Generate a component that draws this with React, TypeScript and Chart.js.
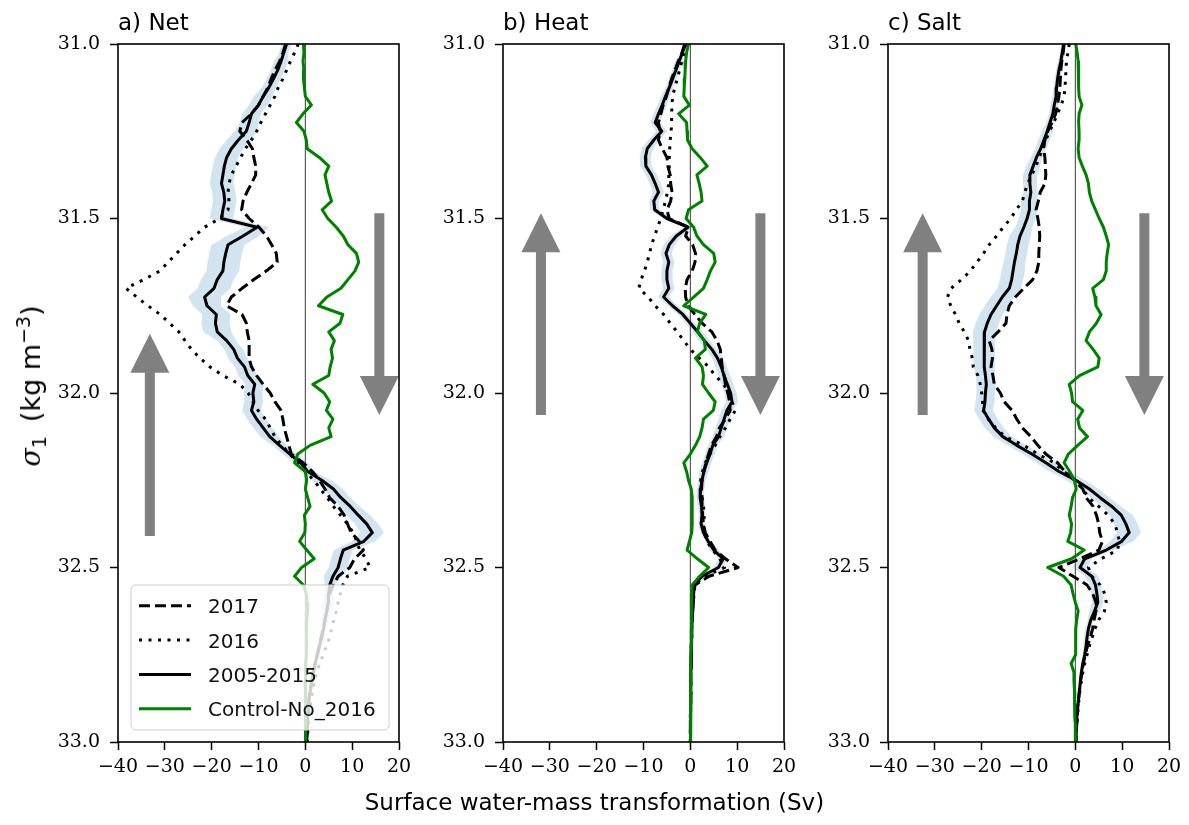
import React, { useEffect, useRef } from "react";
import { Chart, registerables } from "chart.js";

Chart.register(...registerables);

// density levels (sigma_1, kg m^-3)
const sigma = [
  31.0, 31.025, 31.05, 31.075, 31.1, 31.125, 31.15, 31.175, 31.2, 31.225,
  31.25, 31.275, 31.3, 31.325, 31.35, 31.375, 31.4, 31.425, 31.45, 31.475,
  31.5, 31.525, 31.55, 31.575, 31.6, 31.625, 31.65, 31.675, 31.7, 31.725,
  31.75, 31.775, 31.8, 31.825, 31.85, 31.875, 31.9, 31.925, 31.95, 31.975,
  32.0, 32.025, 32.05, 32.075, 32.1, 32.125, 32.15, 32.175, 32.2, 32.225,
  32.25, 32.275, 32.3, 32.325, 32.35, 32.375, 32.4, 32.425, 32.45, 32.475,
  32.5, 32.525, 32.55, 32.575, 32.6, 32.625, 32.65, 32.675, 32.7, 32.725,
  32.75, 32.775, 32.8, 32.825, 32.85, 32.875, 32.9, 32.925, 32.95, 32.975,
  33.0,
];

// ---- a) Net ----
const netMean = [
  -4.0, -4.6, -5.2, -5.9, -6.8, -7.8, -9.0, -10.0, -11.5, -12.0,
  -12.6, -14.3, -15.8, -16.8, -17.3, -17.6, -17.9, -17.4, -17.2, -17.6,
  -17.9, -10.3, -13.3, -16.5, -17.0, -17.4, -17.6, -18.8, -19.5, -21.5,
  -21.0, -19.0, -19.2, -18.8, -16.8, -15.3, -14.5, -13.0, -12.3, -10.8,
  -11.2, -11.0, -11.5, -10.4, -9.0, -7.6, -5.5, -3.3, -1.0, 0.5,
  3.5, 6.0, 7.6, 9.6, 11.3, 13.1, 14.3, 12.5, 8.1, 7.5,
  7.0, 5.9, 5.2, 5.0, 4.9, 4.6, 4.2, 3.9, 3.5, 3.0,
  2.6, 2.1, 1.7, 1.4, 1.1, 0.8, 0.6, 0.5, 0.4, 0.4, 0.3,
];
const net2017 = [
  -4.2, -4.8, -5.5, -6.5, -7.3, -8.0, -9.0, -10.0, -11.5, -13.5,
  -14.0, -12.5, -11.3, -11.0, -10.6, -10.6, -11.5, -12.5, -13.3, -13.6,
  -12.0, -9.9, -8.3, -7.2, -6.2, -6.0, -8.3, -11.0, -13.5, -15.8,
  -16.8, -13.5, -12.6, -12.4, -12.0, -12.0, -12.0, -11.5, -10.4, -9.0,
  -7.5, -6.5, -5.2, -4.8, -4.5, -4.0, -3.5, -3.0, -0.5, 1.5,
  3.0, 4.2, 5.2, 7.0, 8.3, 9.0, 9.8, 11.5, 12.4, 10.5,
  9.5, 7.0, 6.0, 5.2, 4.9, 4.6, 4.2, 3.8, 3.4, 3.0,
  2.5, 2.1, 1.7, 1.4, 1.1, 0.8, 0.6, 0.5, 0.4, 0.3, 0.3,
];
const net2016 = [
  -1.5, -2.3, -3.2, -4.0, -4.8, -5.8, -6.5, -7.5, -8.5, -9.5,
  -10.4, -11.5, -12.8, -13.8, -14.8, -15.8, -16.3, -16.5, -16.3, -16.5,
  -18.3, -21.5, -23.6, -25.7, -27.5, -29.3, -31.0, -34.5, -38.3, -36.0,
  -33.6, -31.0, -29.0, -27.0, -25.7, -24.3, -22.5, -20.4, -17.6, -14.0,
  -12.2, -11.2, -10.1, -8.5, -7.5, -6.5, -5.0, -3.3, -1.5, 0.0,
  1.8, 3.2, 4.7, 6.0, 7.5, 9.0, 10.2, 11.0, 11.6, 13.0,
  13.8, 9.0, 8.0, 7.5, 7.0, 6.6, 6.1, 5.6, 5.2, 4.5,
  3.8, 3.1, 2.4, 2.0, 1.6, 1.3, 1.0, 0.8, 0.6, 0.5, 0.4,
];
const netControl = [
  -0.4, -0.3, -0.5, -0.3, -0.4, -0.2, 0.0, 1.3, -0.5, -1.9,
  -0.3, 0.2, 0.4, 3.0, 5.0, 4.2, 4.6, 5.0, 5.6, 3.6,
  4.8, 6.6, 8.1, 9.1, 10.9, 11.4, 10.6, 9.1, 7.6, 4.6,
  2.8, 8.0, 7.4, 5.0, 6.2, 5.5, 5.8, 5.3, 5.0, 1.6,
  4.0, 5.2, 4.5, 5.9, 5.0, 5.5, 1.0, -1.6, -2.3, 0.0,
  0.3, 0.0, 0.5, 1.0, -0.2, 0.0, -0.1, -1.2, 0.3, 1.9,
  -0.8, -2.3, -0.4, 0.2, 0.4, 0.5, 0.3, 0.2, 0.3, 0.2,
  0.2, 0.1, 0.1, 0.1, 0.1, 0.0, 0.0, 0.0, 0.0, 0.0, 0.0,
];
// half-width of the 2005-2015 spread, every 0.1 kg m^-3
const netSpread = [1.0, 1.5, 2.0, 2.5, 2.5, 2.5, 3.5, 3.5, 3.0, 2.0, 2.0, 2.0, 1.5, 2.0, 2.5, 2.0, 1.0, 0.7, 0.5, 0.3, 0.2];

// ---- b) Heat ----
const heatMean = [
  -1.0, -1.7, -2.4, -3.1, -3.8, -4.5, -5.3, -6.0, -6.8, -7.5,
  -6.1, -7.8, -9.2, -9.6, -9.5, -8.3, -7.5, -6.8, -7.8, -7.6,
  -5.0, -0.5, -3.0, -4.5, -5.2, -4.6, -5.0, -5.0, -4.6, -5.7,
  -3.8, -1.6, 0.0, 1.6, 3.0, 4.6, 5.8, 6.6, 7.2, 7.9,
  8.6, 8.9, 7.8, 7.2, 6.6, 6.0, 4.8, 4.2, 3.5, 2.9,
  2.5, 2.2, 2.1, 2.4, 2.5, 2.3, 2.8, 3.8, 5.0, 7.0,
  6.0, 2.5, 0.8, 0.7, 0.6, 0.5, 0.4, 0.3, 0.3, 0.2,
  0.2, 0.2, 0.1, 0.1, 0.1, 0.1, 0.1, 0.0, 0.0, 0.0, 0.0,
];
const heat2017 = [
  -1.2, -1.8, -2.6, -3.3, -4.0, -4.6, -5.1, -5.8, -6.3, -6.8,
  -6.5, -6.8, -6.0, -5.0, -4.8, -4.3, -4.2, -3.9, -4.2, -5.0,
  -4.5, -0.4, -1.0, 0.5, 1.1, 1.0, 0.4, -0.7, -1.1, -1.0,
  -0.5, 1.0, 2.5, 4.6, 5.7, 6.4, 6.6, 6.8, 7.2, 7.5,
  8.0, 8.4, 8.5, 7.5, 6.2, 5.6, 4.5, 3.9, 3.3, 2.9,
  2.5, 2.4, 2.5, 2.5, 2.6, 2.8, 3.2, 4.2, 5.3, 7.5,
  10.2, 4.0, 1.0, 0.8, 0.6, 0.5, 0.4, 0.3, 0.3, 0.2,
  0.2, 0.2, 0.1, 0.1, 0.1, 0.1, 0.1, 0.0, 0.0, 0.0, 0.0,
];
const heat2016 = [
  -0.7, -1.2, -1.8, -2.3, -2.8, -3.3, -3.8, -3.9, -4.0, -4.0,
  -4.1, -4.3, -4.4, -4.5, -4.5, -4.6, -4.6, -4.9, -5.3, -5.8,
  -6.3, -7.0, -7.6, -8.3, -8.7, -9.2, -9.8, -10.5, -11.0, -9.0,
  -7.5, -5.7, -4.3, -2.8, -1.4, 0.0, 1.9, 3.9, 5.3, 7.1,
  8.2, 8.9, 9.6, 8.5, 7.5, 6.3, 5.3, 4.2, 3.2, 2.6,
  2.2, 2.3, 2.5, 2.8, 3.0, 2.8, 3.0, 3.5, 4.8, 6.3,
  7.3, 3.0, 0.9, 0.8, 0.6, 0.5, 0.4, 0.3, 0.3, 0.2,
  0.2, 0.2, 0.1, 0.1, 0.1, 0.1, 0.1, 0.0, 0.0, 0.0, 0.0,
];
const heatControl = [
  -0.4, -0.8, -1.0, -1.1, -1.2, -1.3, -1.4, -0.2, -2.5, -0.8,
  -0.7, -0.6, 0.4, 2.1, 3.6, 1.4, 1.9, 2.3, 2.5, -0.4,
  -0.9, 0.7, 1.4, 2.8, 5.0, 5.3, 4.3, 3.6, 2.8, 0.7,
  -1.4, 3.3, 2.0, 1.5, 3.0, 3.2, 1.1, 2.5, 2.8, 2.6,
  3.9, 5.3, 4.9, 2.8, 2.5, 2.0, 1.1, 0.0, -1.4, -0.8,
  -0.4, 0.2, 0.4, 0.4, 0.4, 0.4, 0.3, -0.2, -0.7, 1.5,
  3.9, 2.0, 0.4, 0.3, 0.3, 0.3, 0.2, 0.2, 0.2, 0.2,
  0.1, 0.1, 0.1, 0.1, 0.1, 0.1, 0.0, 0.0, 0.0, 0.0, 0.0,
];
const heatSpread = [0.4, 0.8, 1.0, 1.2, 1.2, 1.0, 1.2, 1.2, 1.0, 1.2, 1.3, 1.2, 1.0, 0.8, 0.6, 1.0, 0.3, 0.2, 0.1, 0.1, 0.1];

// ---- c) Salt ----
const saltMean = [
  -2.5, -2.8, -3.1, -3.5, -3.8, -4.0, -4.1, -4.5, -4.8, -5.4,
  -6.0, -6.7, -7.4, -8.3, -9.0, -9.7, -9.7, -9.5, -9.8, -9.8,
  -10.3, -11.0, -11.8, -12.3, -12.6, -13.0, -13.3, -13.6, -14.1, -15.6,
  -16.8, -18.0, -18.8, -19.4, -19.5, -19.4, -19.4, -19.5, -19.2, -19.0,
  -19.2, -19.3, -19.6, -18.5, -17.3, -15.5, -12.5, -9.3, -6.3, -3.5,
  0.1, 3.0, 5.3, 7.8, 9.8, 10.8, 11.5, 9.9, 6.6, 2.0,
  1.0, 3.5, 4.3, 4.6, 4.8, 4.1, 3.3, 2.8, 2.5, 2.3,
  2.0, 1.6, 1.3, 1.1, 0.9, 0.7, 0.5, 0.35, 0.25, 0.15, 0.1,
];
const salt2017 = [
  -2.4, -2.6, -2.9, -3.1, -3.2, -3.3, -3.5, -3.8, -4.2, -5.0,
  -5.9, -6.5, -6.8, -6.5, -6.4, -6.3, -6.5, -7.5, -7.9, -8.4,
  -8.0, -7.7, -7.6, -7.7, -7.8, -7.8, -8.2, -9.1, -11.0, -12.8,
  -14.1, -14.6, -14.8, -16.5, -18.4, -17.8, -17.7, -18.0, -17.6, -17.3,
  -16.0, -15.2, -13.5, -12.5, -11.3, -9.5, -8.0, -6.3, -3.8, -2.2,
  -0.2, 1.6, 2.3, 3.8, 4.5, 5.0, 5.2, 5.8, 5.0, 1.0,
  -3.5, -0.5, 2.5, 3.7, 4.4, 4.4, 4.0, 3.7, 3.2, 2.6,
  2.1, 1.7, 1.4, 1.1, 0.9, 0.7, 0.5, 0.4, 0.3, 0.2, 0.1,
];
const salt2016 = [
  -1.3, -1.6, -1.9, -2.0, -2.1, -2.2, -2.4, -3.0, -3.8, -4.6,
  -5.5, -6.3, -7.0, -7.7, -8.4, -9.3, -10.2, -10.8, -11.3, -12.6,
  -13.8, -15.4, -16.8, -18.4, -19.6, -21.0, -22.4, -24.3, -26.5, -27.3,
  -26.6, -25.6, -24.8, -23.7, -22.8, -22.5, -22.0, -21.8, -20.8, -20.3,
  -20.0, -19.8, -19.7, -18.6, -17.0, -15.0, -11.0, -8.0, -4.5, -2.5,
  0.1, 1.6, 2.8, 5.0, 7.0, 8.4, 9.0, 9.4, 9.0, 5.5,
  2.8, 3.5, 5.3, 6.3, 6.6, 6.2, 5.0, 4.2, 3.6, 3.0,
  2.5, 2.0, 1.6, 1.3, 1.0, 0.8, 0.6, 0.5, 0.3, 0.2, 0.1,
];
const saltControl = [
  0.1, 0.4, 0.6, 0.7, 0.7, 0.7, 0.8, 1.4, 0.8, 0.7,
  0.8, 0.8, 0.6, 0.8, 1.5, 2.3, 2.8, 3.0, 3.5, 4.3,
  5.1, 6.0, 6.6, 7.1, 6.8, 6.6, 6.6, 6.0, 3.7, 4.2,
  4.4, 5.5, 4.5, 3.0, 2.3, 3.8, 5.1, 4.8, 0.9, -1.3,
  -0.8, -0.6, 1.6, 0.5, 0.9, 2.6, 0.5, -1.5, -2.4, -1.2,
  -0.2, 0.2, -0.6, -0.9, -1.3, -0.8, -1.0, -1.6, 1.9, -0.8,
  -5.9, -2.5, -0.9, -0.5, 0.0, 0.6, 0.3, 0.1, 0.1, 0.1,
  0.0, -0.9, -0.3, -0.3, -0.2, -0.2, -0.1, -0.1, 0.0, 0.0, 0.0,
];
const saltSpread = [0.5, 0.6, 0.8, 1.2, 1.5, 1.8, 2.3, 2.5, 2.5, 2.3, 2.0, 2.0, 2.0, 2.0, 2.5, 1.5, 1.2, 0.6, 0.4, 0.3, 0.2];

// axis ticks
const xMin = -40;
const xMax = 20;
const xStep = 10;
const yMin = 31.0;
const yMax = 33.0;
const yStep = 0.5;

const seriesLabels = ["2017", "2016", "2005-2015", "Control-No_2016"];

type Arrow = { x: number; tail: number; tip: number };
type PanelDef = {
  title: string;
  mean: number[];
  y2017: number[];
  y2016: number[];
  control: number[];
  spread: number[];
  arrows: Arrow[];
  legend: boolean;
  plotLeft: number;
};

const panels: PanelDef[] = [
  {
    title: "a) Net", mean: netMean, y2017: net2017, y2016: net2016, control: netControl, spread: netSpread,
    arrows: [{ x: -33.2, tail: 32.41, tip: 31.83 }, { x: 15.8, tail: 31.485, tip: 32.063 }],
    legend: true, plotLeft: 118,
  },
  {
    title: "b) Heat", mean: heatMean, y2017: heat2017, y2016: heat2016, control: heatControl, spread: heatSpread,
    arrows: [{ x: -31.9, tail: 32.063, tip: 31.485 }, { x: 14.96, tail: 31.485, tip: 32.063 }],
    legend: false, plotLeft: 503,
  },
  {
    title: "c) Salt", mean: saltMean, y2017: salt2017, y2016: salt2016, control: saltControl, spread: saltSpread,
    arrows: [{ x: -32.6, tail: 32.063, tip: 31.485 }, { x: 14.74, tail: 31.485, tip: 32.063 }],
    legend: false, plotLeft: 888,
  },
];

const AXIS_W = 118;
const PLOT_W = 281;
const RIGHT_PAD = 30;
const CANVAS_W = AXIS_W + PLOT_W + RIGHT_PAD;
const CANVAS_H = 825;
const TOP = 44;
const XAXIS_H = 83;
const LW = 3;

const SANS = '"DejaVu Sans", sans-serif';
const SERIF = '"DejaVu Serif", serif';

function toPoints(xs: number[]) {
  return xs.map((x, i) => ({ x, y: sigma[i] }));
}
function bandPoints(mean: number[], spread: number[]) {
  const lo = mean.map((m, i) => ({ x: m - spread[Math.round(i / 4)], y: sigma[i] }));
  const hi = mean.map((m, i) => ({ x: m + spread[Math.round(i / 4)], y: sigma[i] })).reverse();
  return [...lo, ...hi];
}

function Panel({ panel }: { panel: PanelDef }) {
  const ref = useRef<HTMLCanvasElement | null>(null);

  useEffect(() => {
    const canvas = ref.current;
    if (!canvas) return;

    const decor = {
      id: "decor",
      beforeDatasetsDraw(chart: any) {
        const { ctx, chartArea: a, scales } = chart;
        const xs = scales.x;
        const ys = scales.y;
        ctx.save();
        ctx.beginPath();
        ctx.rect(a.left, a.top, a.right - a.left, a.bottom - a.top);
        ctx.clip();
        // zero line
        const x0 = xs.getPixelForValue(0);
        ctx.strokeStyle = "#222";
        ctx.lineWidth = 0.9;
        ctx.beginPath();
        ctx.moveTo(x0, a.top);
        ctx.lineTo(x0, a.bottom);
        ctx.stroke();
        // arrows
        ctx.fillStyle = "#808080";
        for (const ar of panel.arrows) {
          const px = xs.getPixelForValue(ar.x);
          const t0 = ys.getPixelForValue(ar.tail);
          const t1 = ys.getPixelForValue(ar.tip);
          const dir = t1 > t0 ? 1 : -1;
          const headLen = 39;
          const headHalf = 19.5;
          const shaftHalf = 5;
          const hb = t1 - dir * headLen;
          ctx.beginPath();
          ctx.moveTo(px - shaftHalf, t0);
          ctx.lineTo(px - shaftHalf, hb);
          ctx.lineTo(px - headHalf, hb);
          ctx.lineTo(px, t1);
          ctx.lineTo(px + headHalf, hb);
          ctx.lineTo(px + shaftHalf, hb);
          ctx.lineTo(px + shaftHalf, t0);
          ctx.closePath();
          ctx.fill();
        }
        ctx.restore();
      },
      afterDatasetsDraw(chart: any) {
        const { ctx, chartArea: a } = chart;
        ctx.save();
        // spines
        ctx.strokeStyle = "#000";
        ctx.lineWidth = 1.6;
        ctx.strokeRect(a.left, a.top, a.right - a.left, a.bottom - a.top);
        // legend
        if (panel.legend) {
          const bx = a.left + 13;
          const by = a.top + 541;
          const bw = 258;
          const bh = 145;
          const r = 5;
          ctx.beginPath();
          ctx.moveTo(bx + r, by);
          ctx.lineTo(bx + bw - r, by);
          ctx.arcTo(bx + bw, by, bx + bw, by + r, r);
          ctx.lineTo(bx + bw, by + bh - r);
          ctx.arcTo(bx + bw, by + bh, bx + bw - r, by + bh, r);
          ctx.lineTo(bx + r, by + bh);
          ctx.arcTo(bx, by + bh, bx, by + bh - r, r);
          ctx.lineTo(bx, by + r);
          ctx.arcTo(bx, by, bx + r, by, r);
          ctx.closePath();
          ctx.fillStyle = "rgba(255,255,255,0.8)";
          ctx.fill();
          ctx.strokeStyle = "#cccccc";
          ctx.lineWidth = 1;
          ctx.stroke();

          const items = chart.data.datasets.filter((d: any) => seriesLabels.includes(d.label));
          items.forEach((d: any, k: number) => {
            const base = by + 28.3 + k * 34.3;
            const ly = base - 7.5;
            ctx.beginPath();
            ctx.setLineDash(d.borderDash || []);
            ctx.strokeStyle = d.borderColor;
            ctx.lineWidth = d.borderWidth;
            ctx.moveTo(bx + 8, ly);
            ctx.lineTo(bx + 60, ly);
            ctx.stroke();
            ctx.setLineDash([]);
            ctx.fillStyle = "#111";
            ctx.font = `20px ${SANS}`;
            ctx.textAlign = "left";
            ctx.textBaseline = "alphabetic";
            ctx.fillText(d.label, bx + 77, base);
          });
        }
        ctx.restore();
      },
      afterDraw(chart: any) {
        const { ctx, chartArea: a } = chart;
        ctx.save();
        ctx.fillStyle = "#000";
        ctx.font = `23px ${SANS}`;
        ctx.textAlign = "left";
        ctx.textBaseline = "alphabetic";
        ctx.fillText(panel.title, a.left, 30);
        ctx.restore();
      },
    };

    const lineCommon = {
      pointRadius: 0,
      fill: false,
      borderJoinStyle: "round" as const,
      tension: 0,
    };

    const chart = new Chart(canvas, {
      type: "line",
      data: {
        datasets: [
          {
            label: "spread",
            data: bandPoints(panel.mean, panel.spread),
            borderColor: "rgba(0,0,0,0)",
            borderWidth: 0,
            pointRadius: 0,
            backgroundColor: "rgba(31,119,180,0.2)",
            fill: "shape",
            order: 5,
          },
          {
            ...lineCommon,
            label: seriesLabels[0],
            data: toPoints(panel.y2017),
            borderColor: "#000",
            borderWidth: LW,
            borderDash: [11, 5],
            order: 3,
          },
          {
            ...lineCommon,
            label: seriesLabels[1],
            data: toPoints(panel.y2016),
            borderColor: "#000",
            borderWidth: LW,
            borderDash: [3, 6.5],
            order: 2,
          },
          {
            ...lineCommon,
            label: seriesLabels[2],
            data: toPoints(panel.mean),
            borderColor: "#000",
            borderWidth: LW,
            order: 1,
          },
          {
            ...lineCommon,
            label: seriesLabels[3],
            data: toPoints(panel.control),
            borderColor: "#008000",
            borderWidth: LW,
            order: 0,
          },
        ] as any,
      },
      options: {
        responsive: false,
        animation: false,
        devicePixelRatio: 1,
        events: [],
        layout: { padding: { top: TOP, right: RIGHT_PAD, left: 0, bottom: 0 } },
        plugins: {
          legend: { display: false },
          tooltip: { enabled: false },
          title: { display: false },
        },
        scales: {
          x: {
            type: "linear",
            min: xMin,
            max: xMax,
            afterFit: (s: any) => {
              s.height = XAXIS_H;
            },
            border: { display: false },
            grid: {
              drawOnChartArea: false,
              drawTicks: true,
              tickLength: 8,
              tickWidth: 1.5,
              tickColor: "#000",
            },
            ticks: {
              stepSize: xStep,
              color: "#000",
              padding: 6,
              maxRotation: 0,
              font: { family: SERIF, size: 19 },
              callback: (v: any) => (Number(v) < 0 ? "\u2212" + Math.abs(Number(v)) : String(v)),
            },
          },
          y: {
            type: "linear",
            min: yMin,
            max: yMax,
            reverse: true,
            afterFit: (s: any) => {
              s.width = AXIS_W;
            },
            border: { display: false },
            grid: {
              drawOnChartArea: false,
              drawTicks: true,
              tickLength: 8,
              tickWidth: 1.5,
              tickColor: "#000",
            },
            ticks: {
              stepSize: yStep,
              color: "#000",
              padding: 10,
              font: { family: SERIF, size: 19 },
              callback: (v: any) => Number(v).toFixed(1),
            },
          },
        },
      } as any,
      plugins: [decor],
    });

    return () => chart.destroy();
  }, [panel]);

  return (
    <canvas
      ref={ref}
      width={CANVAS_W}
      height={CANVAS_H}
      style={{
        position: "absolute",
        left: panel.plotLeft - AXIS_W,
        top: 0,
        width: CANVAS_W,
        height: CANVAS_H,
      }}
    />
  );
}

export default function App() {
  return (
    <div
      style={{
        position: "absolute",
        left: 0,
        top: 0,
        width: 1189,
        height: 825,
        background: "#fff",
        overflow: "hidden",
      }}
    >
      {panels.map((p) => (
        <Panel key={p.title} panel={p} />
      ))}
      <div
        style={{
          position: "absolute",
          left: 31,
          top: 386,
          transform: "translate(-50%, -50%) rotate(-90deg)",
          whiteSpace: "nowrap",
          fontFamily: SANS,
          fontSize: 27,
          lineHeight: "34px",
          color: "#000",
        }}
      >
        <span style={{ fontFamily: SERIF, fontStyle: "italic" }}>σ</span>
        <sub style={{ fontSize: 19, lineHeight: 0 }}>1</sub>
        {"\u2009 (kg m"}
        <sup style={{ fontSize: 19, lineHeight: 0 }}>−3</sup>
        {")"}
      </div>
      <div
        style={{
          position: "absolute",
          left: 0,
          top: 791,
          width: 1189,
          textAlign: "center",
          fontFamily: SANS,
          fontSize: 23,
          lineHeight: "23px",
          color: "#000",
          whiteSpace: "nowrap",
        }}
      >
        Surface water-mass transformation (Sv)
      </div>
    </div>
  );
}
